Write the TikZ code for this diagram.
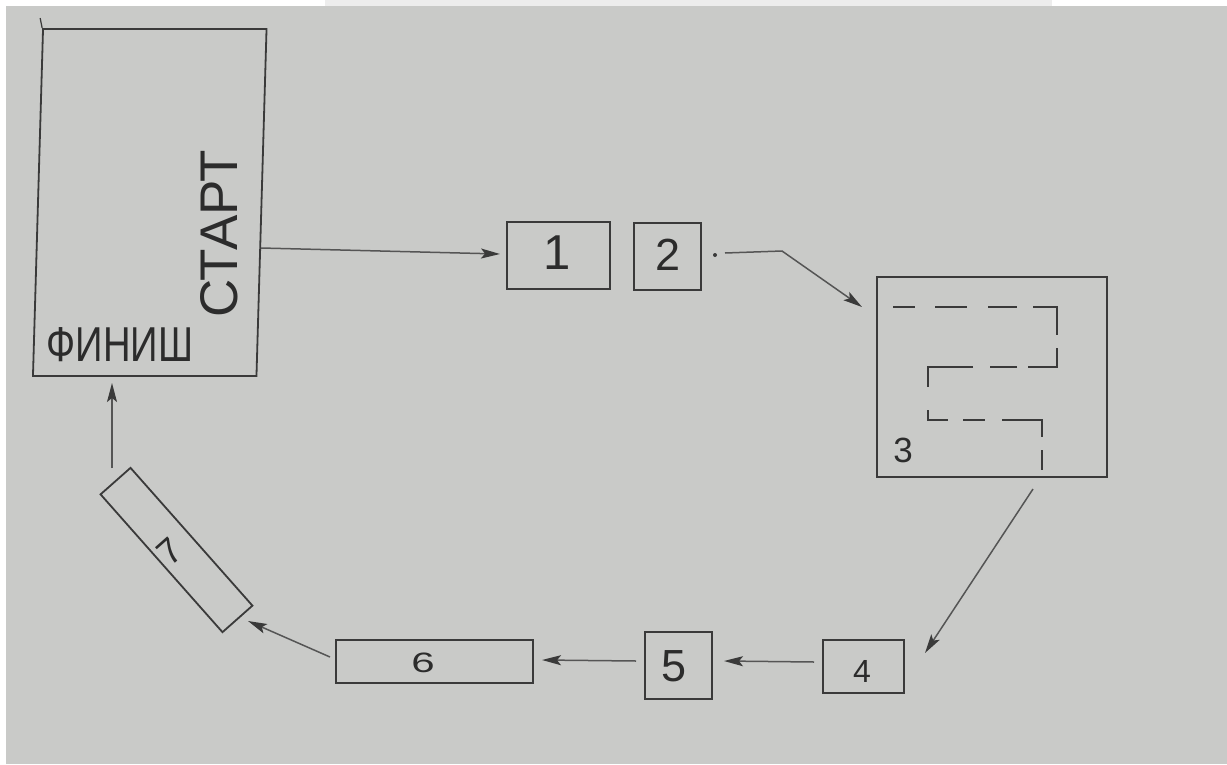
\documentclass[tikz,border=0pt]{standalone}
\usepackage{fontspec}
\setmainfont{Liberation Sans}
\usepackage{graphicx}
\usetikzlibrary{arrows.meta,calc}
\definecolor{paper}{HTML}{C9CAC8}
\definecolor{strip}{HTML}{EDEDED}
\definecolor{ink}{HTML}{3A3A3A}
\definecolor{pen}{HTML}{555555}
\definecolor{txt}{HTML}{2C2C2C}
\tikzset{
  box/.style={draw=ink,line width=1.8pt,inner sep=0pt},
  lbl/.style={text=txt,inner sep=0pt},
  arr/.style={draw=pen,line width=1.5pt,-{Stealth[length=19pt,width=10pt,inset=4pt,color=ink]}},
  dashln/.style={draw=ink,line width=2.4pt}
}
\begin{document}
\begin{tikzpicture}[x=1pt,y=-1pt]
\useasboundingbox (0,0) rectangle (1227,764);
\fill[white] (0,0) rectangle (1227,764);
\fill[paper] (6,6) rectangle (1227,764);
\fill[strip] (325,0) rectangle (1052,6);

% start / finish area
\node[box,xslant=0.029,minimum width=223.5pt,minimum height=347pt] (sf) at (149.75,202.5) {};
\draw[ink,line width=1.2pt] (sf.north west) -- ++(-2,-10);
\node[lbl,rotate=90] (start) at (219,234) {\fontsize{53}{53}\selectfont СТАРТ};
\node[lbl] (finish) at (120,344.5) {\scalebox{0.78}[1]{\fontsize{49}{49}\selectfont ФИНИШ}};

% boxes
\node[box,minimum width=103pt,minimum height=67pt] (b1) at (558.5,255.5) {};
\node[box,minimum width=67pt,minimum height=67pt] (b2) at (667.5,256.5) {};
\node[box,minimum width=230pt,minimum height=200pt] (b3) at (992,377) {};
\node[box,minimum width=81pt,minimum height=53pt] (b4) at (863.5,666.5) {};
\node[box,minimum width=67pt,minimum height=67pt] (b5) at (678.5,665.5) {};
\node[box,minimum width=197pt,minimum height=43pt] (b6) at (434.5,661.5) {};
\node[box,rotate=-48.5,minimum width=184pt,minimum height=40pt] (b7) at (176.5,550) {};

% numbers
\node[lbl] (t1) at (557,253) {\fontsize{49}{49}\selectfont 1};
\node[lbl] (t2) at (668,255) {\fontsize{45}{45}\selectfont 2};
\node[lbl] (t3) at (903,450) {\fontsize{35}{35}\selectfont 3};
\node[lbl] (t4) at (862,671) {\fontsize{32}{32}\selectfont 4};
\node[lbl] (t5) at (674,666) {\fontsize{45}{45}\selectfont 5};
\node[lbl] (t6) at (423,663) {\scalebox{1.5}[1]{\fontsize{28}{28}\selectfont 6}};
\node[lbl,rotate=41.5] (t7) at (170,552) {\fontsize{36}{36}\selectfont 7};

% dashed path in box 3
\draw[dashln] (893,307)--(915,307);
\draw[dashln] (935,307)--(967,307);
\draw[dashln] (988,307)--(1017,307);
\draw[dashln] (1033,307)--(1057,307)--(1057,335);
\draw[dashln] (1057,348)--(1057,367)--(1028,367);
\draw[dashln] (1017,367)--(990,367);
\draw[dashln] (973,367)--(928,367)--(928,387);
\draw[dashln] (928,410)--(928,420)--(948,420);
\draw[dashln] (963,420)--(985,420);
\draw[dashln] (1002,420)--(1042,420)--(1042,437);
\draw[dashln] (1042,450)--(1042,470);

% connectors
\coordinate (a0) at (261,248);
\coordinate (a1) at (500,254);
\draw[arr] (a0) -- (a1);

\fill[ink] (715,255) circle (2);
\coordinate (d0) at (725,253);
\coordinate (d1) at (782,251);
\coordinate (d2) at (862,307);
\draw[arr] (d0) -- (d1) -- (d2);

\coordinate (e0) at (1033,489);
\coordinate (e1) at (925,653);
\draw[arr] (e0) -- (e1);

\coordinate (f0) at (814,662);
\coordinate (f1) at (724,661);
\draw[arr] (f0) -- (f1);

\coordinate (g0) at (636,661);
\coordinate (g1) at (542,660);
\draw[arr] (g0) -- (g1);

\coordinate (h0) at (330,657);
\coordinate (h1) at (248,621);
\draw[arr] (h0) -- (h1);

\coordinate (k0) at (112,468);
\coordinate (k1) at (112,383);
\draw[arr] (k0) -- (k1);
\end{tikzpicture}
\end{document}
